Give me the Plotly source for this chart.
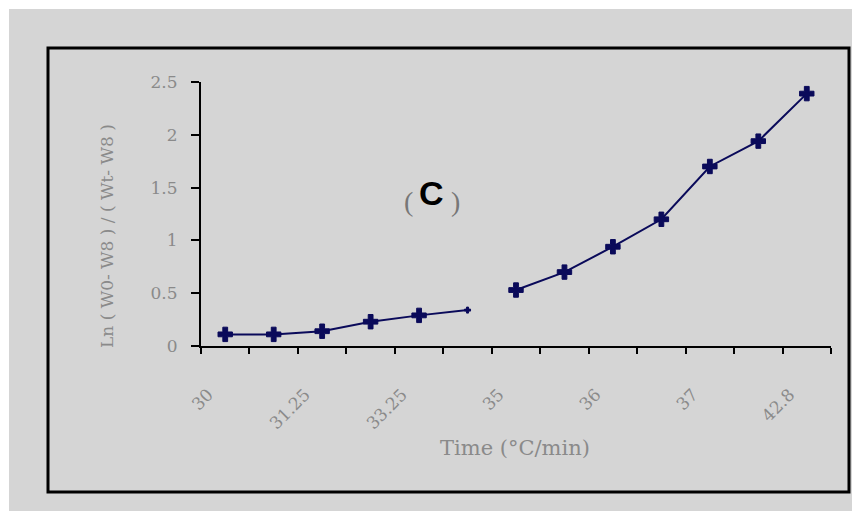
import plotly.graph_objects as go

# ---- data ----
positions = list(range(13))                     # category slots on the x axis
label_positions = [0, 2, 4, 6, 8, 10, 12]
tick_labels = ["30", "31.25", "33.25", "35", "36", "37", "42.8"]
series1_x = [0, 1, 2, 3, 4, 5]
series1_y = [0.11, 0.11, 0.14, 0.23, 0.29, 0.34]
series2_x = [6, 7, 8, 9, 10, 11, 12]
series2_y = [0.53, 0.70, 0.94, 1.20, 1.70, 1.94, 2.39]
y_ticks = [0, 0.5, 1, 1.5, 2, 2.5]
y_tick_text = ["0", "0.5", "1", "1.5", "2", "2.5"]

W, H = 852, 511
L, R, T, B = 201, 21, 82, 165
pw, ph = W - L - R, H - T - B

def px(x):
    return (x - L) / pw

def py(y):
    return (H - B - y) / ph

BG = "#d5d5d5"
NAVY = "#0a0a5a"
GRAY = "#8a8a8a"
SERIF = "DejaVu Serif"
MK = dict(symbol="cross", size=12, color=NAVY, opacity=1,
          line=dict(color=NAVY, width=1))

fig = go.Figure()
# series 1: line through all points, full markers except the last (partial) one
fig.add_trace(go.Scatter(
    x=series1_x, y=series1_y, mode="lines",
    line=dict(color=NAVY, width=2), showlegend=False, cliponaxis=False))
fig.add_trace(go.Scatter(
    x=series1_x[:-1], y=series1_y[:-1], mode="markers",
    marker=MK, showlegend=False, cliponaxis=False))
fig.add_trace(go.Scatter(
    x=series1_x[-1:], y=series1_y[-1:], mode="markers",
    marker=dict(MK, size=5), showlegend=False, cliponaxis=False))
# series 2
fig.add_trace(go.Scatter(
    x=series2_x, y=series2_y, mode="lines+markers",
    line=dict(color=NAVY, width=2), marker=MK,
    showlegend=False, cliponaxis=False))

fig.update_layout(
    width=W, height=H,
    margin=dict(l=L, r=R, t=T, b=B, pad=0),
    paper_bgcolor=BG, plot_bgcolor=BG,
    font=dict(family=SERIF, size=15, color=GRAY),
    xaxis=dict(
        range=[-0.5, 12.5], showgrid=False, zeroline=False,
        showline=True, linecolor="black", linewidth=2,
        tickvals=label_positions, ticktext=tick_labels,
        ticks="outside", ticklen=30, tickcolor="rgba(0,0,0,0)",
        tickangle=-45, ticklabelshift=-17,
        tickfont=dict(family=SERIF, size=17, color=GRAY),
        minor=dict(tickvals=[p - 0.5 for p in positions] + [12.5],
                   ticks="outside", ticklen=6, tickcolor="black", tickwidth=2),
    ),
    yaxis=dict(
        range=[0, 2.5], showgrid=False, zeroline=False,
        showline=True, linecolor="black", linewidth=2,
        tickvals=y_ticks, ticktext=y_tick_text,
        ticks="outside", ticklen=8, tickcolor="black", tickwidth=2,
        ticklabelstandoff=10,
        tickfont=dict(family=SERIF, size=17, color=GRAY),
    ),
)

# white strips at top / left edge and the black frame
fig.add_shape(type="rect", xref="paper", yref="paper",
              x0=px(0), x1=px(W), y0=py(9), y1=py(0),
              fillcolor="white", line_width=0, layer="below")
fig.add_shape(type="rect", xref="paper", yref="paper",
              x0=px(0), x1=px(9), y0=py(H), y1=py(0),
              fillcolor="white", line_width=0, layer="below")
fig.add_shape(type="rect", xref="paper", yref="paper",
              x0=px(48), x1=px(849), y0=py(492), y1=py(48),
              line=dict(color="black", width=3), fillcolor="rgba(0,0,0,0)")

ann = dict(xref="paper", yref="paper", showarrow=False,
           xanchor="center", yanchor="middle")
fig.add_annotation(text="Ln ( W0- W8 ) / ( Wt- W8 )",
                   x=px(107), y=py(236), textangle=-90,
                   font=dict(family=SERIF, size=17, color=GRAY), **ann)
fig.add_annotation(text="Time (\u00b0C/min)", x=px(515), y=py(448),
                   font=dict(family=SERIF, size=21, color=GRAY), **ann)
fig.add_annotation(text="(", x=px(408), y=py(201),
                   font=dict(family="Liberation Serif", size=28, color="#777777"), **ann)
fig.add_annotation(text="<b>C</b>", x=px(431), y=py(193),
                   font=dict(family="Liberation Sans", size=34, color="black"), **ann)
fig.add_annotation(text=")", x=px(455), y=py(201),
                   font=dict(family="Liberation Serif", size=28, color="#777777"), **ann)

fig.write_html("out.html")
